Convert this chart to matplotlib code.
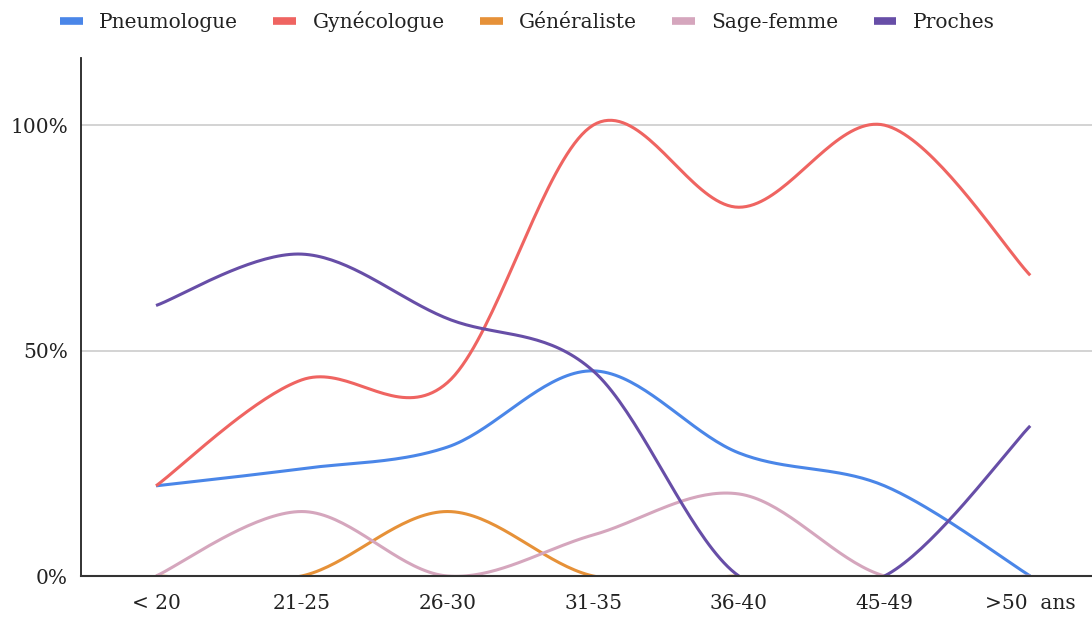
import matplotlib
matplotlib.use('Agg')
import matplotlib.pyplot as plt
from matplotlib.lines import Line2D
import numpy as np

# tranches d'age et pourcentages (None = pas de valeur)
ages = ['< 20', '21-25', '26-30', '31-35', '36-40', '45-49', '>50  ans']
pneumologue = [20.0, 23.8, 28.6, 45.5, 27.3, 20.0, 0.0]
gynecologue = [20.0, 43.5, 42.9, 100.0, 81.8, 100.0, 66.7]
generaliste = [0.0, 0.0, 14.3, 0.0, 0.0, None, None]
sage_femme = [0.0, 14.3, 0.0, 9.1, 18.2, 0.0, 0.0]
proches = [60.0, 71.4, 57.1, 45.5, 0.0, 0.0, 33.3]

series = [
    ('Pneumologue', pneumologue, '#4a86e8'),
    ('Gynécologue', gynecologue, '#ef6461'),
    ('Généraliste', generaliste, '#e69138'),
    ('Sage-femme', sage_femme, '#d5a6bd'),
    ('Proches', proches, '#674ea7'),
]


def smooth(xs, ys, t=1/6., n=40):
    # courbe de Bezier type Catmull-Rom entre les points
    pts = [(a, b) for a, b in zip(xs, ys) if b is not None]
    xs = np.array([p[0] for p in pts], float)
    ys = np.array([p[1] for p in pts], float)
    px, py = [], []
    for i in range(len(xs) - 1):
        i0 = max(i - 1, 0)
        i3 = min(i + 2, len(xs) - 1)
        x1, y1 = xs[i] + (xs[i + 1] - xs[i0]) * t, ys[i] + (ys[i + 1] - ys[i0]) * t
        x2, y2 = xs[i + 1] - (xs[i3] - xs[i]) * t, ys[i + 1] - (ys[i3] - ys[i]) * t
        s = np.linspace(0, 1, n)
        bx = (1-s)**3*xs[i] + 3*(1-s)**2*s*x1 + 3*(1-s)*s**2*x2 + s**3*xs[i+1]
        by = (1-s)**3*ys[i] + 3*(1-s)**2*s*y1 + 3*(1-s)*s**2*y2 + s**3*ys[i+1]
        px.extend(bx)
        py.extend(by)
    return np.array(px), np.array(py)


plt.rcParams['font.family'] = ['DejaVu Serif']
fig = plt.figure(figsize=(10.92, 6.17), dpi=100)
ax = fig.add_axes([81/1092, 41/617, 1 - 81/1092, (576-58)/617])

x = np.arange(len(ages))
for name, vals, col in series:
    sx, sy = smooth(x, vals)
    ax.plot(sx, sy, color=col, lw=2.2, solid_capstyle='butt', zorder=2)

ax.set_xlim(-0.515, 6.424)
ax.set_ylim(0, 114.9)
ax.set_yticks([0, 50, 100])
ax.set_yticklabels(['0%', '50%', '100%'], fontsize=14.5, color='#222222')
ax.set_xticks(x)
ax.set_xticklabels(ages, fontsize=14.5, color='#222222')
ax.tick_params(length=0)
ax.tick_params(axis='y', pad=9.5)
ax.tick_params(axis='x', pad=13)
for yv in [50, 100]:
    ax.axhline(yv, color='#cccccc', lw=1.2, zorder=1)
for s in ['top', 'right']:
    ax.spines[s].set_visible(False)
ax.spines['left'].set_linewidth(1.3)
ax.spines['left'].set_color('#222222')
ax.spines['bottom'].set_linewidth(1.5)
ax.spines['bottom'].set_color('#333333')
ax.spines['left'].set_zorder(3)
ax.spines['bottom'].set_zorder(3)

handles = [Line2D([0], [0], color=c, lw=5.5, solid_capstyle='butt') for _, _, c in series]
fig.legend(handles, [s[0] for s in series], loc='center left',
           bbox_to_anchor=(60/1092, 1 - 22/617), ncol=5, frameon=False,
           fontsize=14.5, handlelength=1.14, handletextpad=0.8, columnspacing=1.75,
           borderpad=0, borderaxespad=0, labelcolor='#222222')

plt.savefig('out.png', dpi=100)
